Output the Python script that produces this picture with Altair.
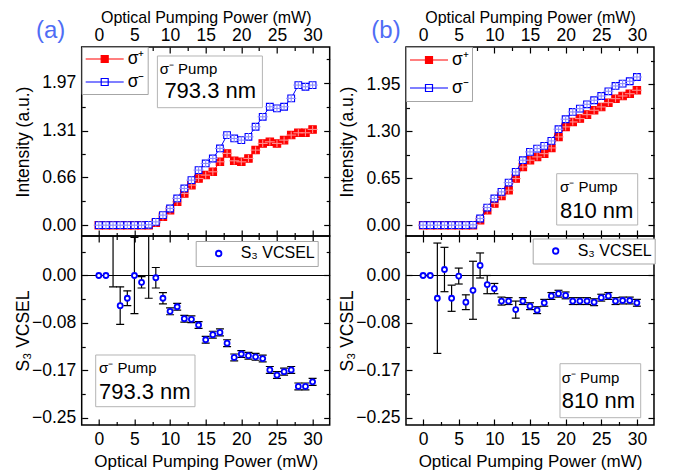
import altair as alt
import pandas as pd

FONT = "Liberation Sans"

# ---------------- data ----------------
power = list(range(31))  # mW

a_sig_plus = [0, 0, 0, 0, 0, 0, 0, 0,
              0.032, 0.115, 0.208, 0.323, 0.439, 0.554, 0.646, 0.693, 0.739, 0.877,
              0.993, 0.891, 0.877, 0.923, 1.039, 1.131, 1.154, 1.131, 1.177, 1.247,
              1.279, 1.279, 1.325]
a_sig_minus = [0, 0, 0, 0, 0, 0, 0, 0.005,
               0.046, 0.139, 0.231, 0.370, 0.508, 0.623, 0.762, 0.854, 0.923, 1.062,
               1.247, 1.200, 1.177, 1.223, 1.362, 1.500, 1.639, 1.616, 1.639, 1.755,
               1.939, 1.916, 1.939]
b_sig_plus = [0, 0, 0, 0, 0, 0, 0, 0,
              0.069, 0.207, 0.299, 0.405, 0.484, 0.645, 0.806, 0.899, 0.945, 0.990,
              1.069, 1.221, 1.360, 1.429, 1.475, 1.530, 1.590, 1.636, 1.696, 1.751,
              1.788, 1.820, 1.867]
b_sig_minus = [0, 0, 0, 0, 0, 0, 0, 0.005,
               0.092, 0.244, 0.369, 0.461, 0.590, 0.737, 0.899, 1.014, 1.060, 1.097,
               1.166, 1.328, 1.466, 1.567, 1.613, 1.673, 1.729, 1.788, 1.853, 1.927,
               1.959, 1.992, 2.051]

a_s3 = [0, 0, 0.12, -0.053, -0.040, 0.0, -0.012, 0.11, -0.004, -0.040, -0.063,
        -0.055, -0.076, -0.077, -0.087, -0.113, -0.104, -0.100, -0.119, -0.144,
        -0.138, -0.141, -0.143, -0.146, -0.166, -0.175, -0.169, -0.166, -0.195,
        -0.195, -0.187]
a_s3_err = [0, 0, 0.14, 0.033, 0.013, 0.067, 0.010, 0.15, 0.018, 0.010, 0.006,
            0.006, 0.006, 0.006, 0.006, 0.006, 0.006, 0.006, 0.006, 0.006, 0.006,
            0.006, 0.006, 0.006, 0.006, 0.006, 0.006, 0.006, 0.006, 0.006, 0.006]
b_s3 = [0, 0, -0.040, 0.0105, -0.040, -0.001, -0.047, -0.026, 0.0176, -0.016,
        -0.023, -0.045, -0.045, -0.060, -0.045, -0.054, -0.061, -0.048, -0.036,
        -0.032, -0.035, -0.045, -0.045, -0.045, -0.047, -0.039, -0.036, -0.045,
        -0.044, -0.044, -0.048]
b_s3_err = [0, 0, 0.097, 0.039, 0.023, 0.014, 0.013, 0.051, 0.022, 0.016, 0.009,
            0.007, 0.006, 0.015, 0.006, 0.006, 0.006, 0.006, 0.006, 0.006, 0.006,
            0.006, 0.006, 0.006, 0.006, 0.006, 0.006, 0.006, 0.006, 0.006, 0.006]

INT_XERR = 0.7   # horizontal error half-width (mW)
INT_YERR = 0.05  # vertical error half-height (a.u.)

x_major = [0, 5, 10, 15, 20, 25, 30]
x_minor = [2.5, 7.5, 12.5, 17.5, 22.5, 27.5]
a_int_ticks = [0, 0.66, 1.31, 1.97]
a_int_minor = [0.33, 0.985, 1.64, 2.3]
b_int_ticks = [0, 0.65, 1.30, 1.95]
b_int_minor = [0.325, 0.975, 1.625, 2.275]
s3_ticks = [0, -0.0833, -0.1667, -0.25]
s3_minor = [0.0417, -0.0417, -0.125, -0.2083]

SERIES = ["σ⁺", "σ⁻"]
S3_NAME = "S₃ VCSEL"
X_TITLE = "Optical Pumping Power (mW)"

# ---------------- layout constants ----------------
X_DOM = [-2.4, 32.4]
INT_DOM = [-0.15, 2.466]
S3_DOM = [-0.2628, 0.0694]
W, H = 248, 189
FS = 17.5

LINE_PATH = "M-1,0H1M-0.184,-0.184H0.184V0.184H-0.184Z"
CIRC_PATH = "M-0.1375,0A0.1375,0.1375,0,1,0,0.1375,0A0.1375,0.1375,0,1,0,-0.1375,0Z"


def scale(dom):
    return alt.Scale(domain=dom, nice=False, zero=False)


def tick_axis(orient, values, size):
    return alt.Axis(orient=orient, values=values, labels=False, domain=False,
                    ticks=True, tickSize={"expr": str(-size)}, tickWidth=1.2,
                    tickColor="black", title=None, grid=False)


def y_label_axis(values, title):
    return alt.Axis(orient="left", values=values, format=".2f", ticks=False,
                    domain=False, labelPadding=6, labelFontSize=FS,
                    labelOverlap=False, grid=False, title=title,
                    titleFontSize=FS, titleX=-53.3, titleBaseline="alphabetic",
                    titleAngle=270)


def x_label_axis(orient):
    if orient == "top":
        pad, ty, tfs = 7.0, -25, 16
    else:
        pad, ty, tfs = 19.7, 41.5, 17
    return alt.Axis(orient=orient, values=x_major, format="d", ticks=False,
                    domain=False, labelPadding=pad, labelBaseline="alphabetic",
                    labelFontSize=FS, labelOverlap=False, grid=False,
                    title=X_TITLE, titleFontSize=tfs, titleY=ty,
                    titleBaseline="alphabetic")


def frame_layers(df, xf, yf, ydom, y_maj, y_min, y_title, x_orient):
    xs, ys = scale(X_DOM), scale(ydom)
    x_other = "bottom" if x_orient == "top" else "top"
    pairs = [
        (x_label_axis(x_orient), y_label_axis(y_maj, y_title)),
        (tick_axis(x_orient, x_major, 6), tick_axis("left", y_maj, 6)),
        (tick_axis(x_orient, x_minor, 3.5), tick_axis("left", y_min, 3.5)),
        (tick_axis(x_other, x_major, 6), tick_axis("right", y_maj, 6)),
        (tick_axis(x_other, x_minor, 3.5), tick_axis("right", y_min, 3.5)),
    ]
    return [alt.Chart(df).mark_point(opacity=0).encode(
        x=alt.X(f"{xf}:Q", scale=xs, axis=ax),
        y=alt.Y(f"{yf}:Q", scale=ys, axis=ay)) for ax, ay in pairs]


def annotation(box, t1, t2, big):
    one = pd.DataFrame({"k": [0]})
    rect = alt.Chart(one).mark_rect(fill="white", stroke="#b4b4b4", strokeWidth=1).encode(
        x=alt.value(box[0]), x2=alt.value(box[1]), y=alt.value(box[2]), y2=alt.value(box[3]))
    a = alt.Chart(one).mark_text(align="left", baseline="alphabetic", font=FONT,
                                 fontSize=15, color="black").encode(
        x=alt.value(t1[0]), y=alt.value(t1[1]), text=alt.value("σ⁻ Pump"))
    b = alt.Chart(one).mark_text(align="left", baseline="alphabetic", font=FONT,
                                 fontSize=22, color="black").encode(
        x=alt.value(t2[0]), y=alt.value(t2[1]), text=alt.value(big))
    return [rect, a, b]


def tag(label, x):
    one = pd.DataFrame({"k": [0]})
    return alt.Chart(one).mark_text(align="center", baseline="alphabetic", font=FONT,
                                    fontSize=24, color="#4f6df5").encode(
        x=alt.value(x), y=alt.value(-8.7), text=alt.value(label))


def intensity_panel(plus, minus, y_maj, y_min, leg_pad, leg_row, leg_clip, annot, big, label, tag_x):
    xs, ys = scale(X_DOM), scale(INT_DOM)
    base = pd.DataFrame({"power": power, "value": plus})
    layers = frame_layers(base, "power", "value", INT_DOM, y_maj, y_min,
                          "Intensity (a.u.)", "top")
    leg = alt.Legend(orient="none", legendX=0, legendY=0, title=None,
                     symbolType=LINE_PATH, symbolSize=1444, symbolStrokeWidth=1.2,
                     labelFont=FONT, labelFontSize=FS, labelColor="black",
                     labelOffset=3, padding=leg_pad, rowPadding=leg_row,
                     clipHeight=leg_clip, strokeColor="#a6a6a6", fillColor="white",
                     symbolOpacity=1)
    stroke_scale = alt.Scale(domain=SERIES, range=["#ff0000", "#0000ff"])
    fill_scale = alt.Scale(domain=SERIES, range=["#ff0000", "#ffffff"])
    specs = [(SERIES[0], plus, "#ff0000", "#ff8c8c", 55),
             (SERIES[1], minus, "#0000ff", "#8c8cff", 45)]
    for name, vals, color, light, size in specs:
        df = pd.DataFrame({"power": power, "value": vals, "series": name})
        df["xlo"] = df["power"] - INT_XERR
        df["xhi"] = df["power"] + INT_XERR
        df["ylo"] = df["value"] - INT_YERR
        df["yhi"] = df["value"] + INT_YERR
        X = alt.X("power:Q", scale=xs, axis=None)
        Y = alt.Y("value:Q", scale=ys, axis=None)
        line = alt.Chart(df).mark_line(color=color, strokeWidth=1).encode(x=X, y=Y)
        pts = alt.Chart(df).mark_point(shape="square", filled=True, size=size,
                                       strokeWidth=1.1, opacity=1).encode(
            x=X, y=Y,
            stroke=alt.Stroke("series:N", scale=stroke_scale, legend=leg),
            fill=alt.Fill("series:N", scale=fill_scale, legend=leg))
        xerr = alt.Chart(df).mark_rule(color=light, strokeWidth=1.1).encode(
            x=alt.X("xlo:Q", scale=xs, axis=None), x2="xhi:Q", y=Y)
        yerr = alt.Chart(df).mark_rule(color=light, strokeWidth=1.1).encode(
            x=X, y=alt.Y("ylo:Q", scale=ys, axis=None), y2="yhi:Q")
        layers += [line, pts, xerr, yerr]
    layers += annotation(*annot, big)
    layers.append(tag(label, tag_x))
    return alt.layer(*layers).resolve_axis(x="independent", y="independent").properties(
        width=W, height=H)


def s3_panel(vals, errs, leg_x, leg_y, annot, big):
    xs, ys = scale(X_DOM), scale(S3_DOM)
    df = pd.DataFrame({"power": power, "s3": vals, "err": errs, "series": S3_NAME})
    df["lo"] = df["s3"] - df["err"]
    df["hi"] = df["s3"] + df["err"]
    layers = frame_layers(df, "power", "s3", S3_DOM, s3_ticks, s3_minor, S3_NAME, "bottom")
    X = alt.X("power:Q", scale=xs, axis=None)
    zero = alt.Chart(pd.DataFrame({"k": [0]})).mark_rule(color="black", strokeWidth=1.1).encode(
        y=alt.YDatum(0, scale=ys, axis=None))
    bar = alt.Chart(df).mark_rule(color="black", strokeWidth=1.2, clip=True).encode(
        x=X, y=alt.Y("lo:Q", scale=ys, axis=None), y2="hi:Q")
    cap_lo = alt.Chart(df).mark_tick(orient="horizontal", size=8, thickness=1.2,
                                     color="black", clip=True, opacity=1).encode(
        x=X, y=alt.Y("lo:Q", scale=ys, axis=None))
    cap_hi = alt.Chart(df).mark_tick(orient="horizontal", size=8, thickness=1.2,
                                     color="black", clip=True, opacity=1).encode(
        x=X, y=alt.Y("hi:Q", scale=ys, axis=None))
    leg = alt.Legend(orient="none", legendX=leg_x, legendY=leg_y, title=None,
                     symbolType=CIRC_PATH, symbolSize=1600, symbolStrokeWidth=1.8,
                     symbolFillColor="white", labelFont=FONT, labelFontSize=16,
                     labelColor="black", labelOffset=1, padding=2, clipHeight=21,
                     strokeColor="#a6a6a6", fillColor="white", symbolOpacity=1)
    pts = alt.Chart(df).mark_point(shape="circle", filled=True, fill="white", size=25,
                                   strokeWidth=1.8, opacity=1, clip=True).encode(
        x=X, y=alt.Y("s3:Q", scale=ys, axis=None),
        stroke=alt.Stroke("series:N", scale=alt.Scale(domain=[S3_NAME], range=["#0000ff"]),
                          legend=leg))
    layers += [zero, bar, cap_lo, cap_hi, pts]
    layers += annotation(*annot, big)
    return alt.layer(*layers).resolve_axis(x="independent", y="independent").properties(
        width=W, height=H)


top_a = intensity_panel(a_sig_plus, a_sig_minus, a_int_ticks, a_int_minor, 3, 5, 18,
                        ((75.7, 180.7, 9, 60.7), (78, 27.3), (82.7, 50.7)),
                        "793.3 nm", "(a)", -31)
top_b = intensity_panel(b_sig_plus, b_sig_minus, b_int_ticks, b_int_minor, 3, 8, 20,
                        ((150.7, 231.7, 126.7, 178), (154, 144.7), (154, 170.7)),
                        "810 nm", "(b)", -20)
bot_a = s3_panel(a_s3, a_s3_err, 114, 5,
                 ((14, 113.3, 119, 170.7), (17.3, 136.7), (17.3, 163.3)), "793.3 nm")
bot_b = s3_panel(b_s3, b_s3_err, 126.7, 2.5,
                 ((154, 234.7, 127.7, 181.7), (155.7, 146.7), (155.7, 171.7)), "810 nm")

chart = alt.concat(top_a, top_b, bot_a, bot_b, columns=2,
                   spacing={"row": 0, "column": 76.3}, bounds="flush").resolve_scale(
    x="independent", y="independent", stroke="independent", fill="independent"
).resolve_legend(stroke="independent", fill="independent").properties(
    padding={"left": 4.7, "top": 0, "right": 5, "bottom": 5}
).configure_view(stroke="black", strokeWidth=1.5).configure_axis(
    grid=False, labelFont=FONT, titleFont=FONT, labelColor="black",
    titleColor="black", titleFontWeight="normal"
).configure_legend(labelFont=FONT)

chart.save("out.html", embed_options={"renderer": "svg", "actions": False})
